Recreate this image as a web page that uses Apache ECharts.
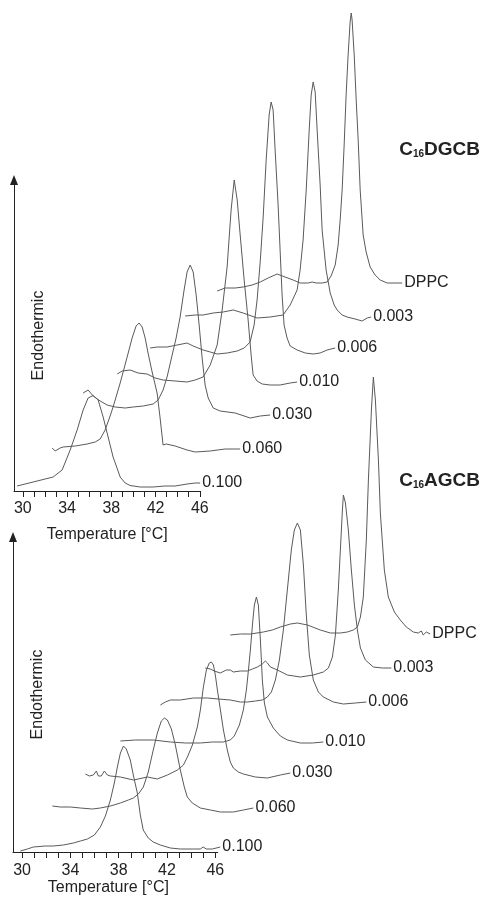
<!DOCTYPE html>
<html>
<head>
<meta charset="utf-8">
<script src="https://cdn.jsdelivr.net/npm/echarts@6/dist/echarts.min.js"></script>
<style>
  html, body { margin: 0; padding: 0; background: #fff; }
  #chart { width: 487px; height: 902px; }
</style>
</head>
<body>
<div id="chart"></div>
<script>
// Curve labels (surfactant mole fraction, DPPC = pure lipid), front to back
const curveNames = ['0.100', '0.060', '0.030', '0.010', '0.006', '0.003', 'DPPC'];
// Waterfall offsets: temperature shift (°C) and heat-flow shift (a.u.) per curve
const tempShift = [0, 3, 6, 9, 12, 15, 18];
const heatShiftDGCB = [0, 3.35, 6.7, 10.05, 13.4, 16.75, 19.9];
const heatShiftAGCB = [0, 3.6, 7.2, 10.7, 14.3, 17.5, 21.4];
// Temperature axis ticks and labels
const tickTemps = [30, 31, 32, 33, 34, 35, 36, 37, 38, 39, 40, 41, 42, 43, 44, 45, 46];
const labelTemps = [30, 34, 38, 42, 46];

// ---- C16DGCB / DPPC thermograms: temperature (°C) and heat flow (a.u.)
const dgcbT100 = [29.48,30.93,32.74,33.55,34.28,34.91,35.45,35.90,36.36,36.81,37.26,37.71,38.16,38.80,39.25,39.70,40.61,41.78,42.86,43.77,44.85,45.58,46.03];
const dgcbQ100 = [0.5,0.9,1.4,2.1,4.1,6.1,8.1,9.3,9.55,9.1,7.4,5.4,3.4,1.4,0.8,0.55,0.4,0.4,0.5,0.5,0.7,0.8,0.8];
const dgcbT060 = [29.65,29.92,30.10,30.37,30.64,31.73,32.81,33.54,33.99,34.44,34.89,35.16,35.80,36.43,36.88,37.24,37.51,37.79,38.06,38.32,38.69,39.14,39.41,39.68,39.96,40.14,40.77,41.85,42.58,43.94,45.29,46.65];
const dgcbQ060 = [0.95,0.65,0.75,0.95,1.05,1.15,1.35,1.55,1.85,2.75,4.15,5.05,7.45,10.05,11.95,13.15,13.45,13.05,11.95,10.45,8.55,6.45,3.95,1.25,1.35,1.45,1.15,0.75,0.55,0.65,0.85,0.85];
const dgcbT030 = [29.45,29.90,30.36,30.99,31.62,32.35,33.25,33.98,34.88,35.78,36.23,36.68,37.04,37.50,37.86,38.22,38.58,38.85,39.13,39.40,39.67,39.94,40.21,40.48,40.76,41.21,41.84,43.20,44.55,45.46,46.36];
const dgcbQ030 = [3.1,3.4,2.8,2.3,1.9,1.7,1.6,1.7,1.8,2.0,2.4,3.4,4.7,6.9,8.6,10.7,13.4,15.2,15.9,15.2,12.9,9.9,6.6,3.9,2.6,1.6,1.3,1.1,0.6,0.8,0.9];
const dgcbT010 = [29.53,29.98,30.70,31.42,32.23,32.96,33.68,34.77,35.85,36.58,37.30,37.94,38.57,39.02,39.47,39.83,40.11,40.38,40.65,41.01,41.37,41.64,41.82,42.18,42.64,43.36,44.26,45.17,45.80];
const dgcbQ010 = [1.65,1.95,2.05,1.75,1.65,1.25,1.05,0.95,0.85,1.05,1.35,2.55,4.55,8.05,12.35,18.05,21.05,19.05,15.55,11.05,7.05,3.55,1.55,0.95,0.65,0.55,0.55,0.75,0.85];
const dgcbT006 = [29.51,30.14,31.04,31.95,32.85,33.40,34.30,34.94,35.57,36.47,37.38,38.01,38.55,38.91,39.18,39.46,39.73,40.00,40.27,40.45,40.63,40.81,41.08,41.26,41.44,41.62,41.89,42.17,42.80,43.53,44.25,44.88,45.51,46.24];
const dgcbQ006 = [0.9,1.0,1.0,1.2,1.4,1.1,0.7,0.5,0.3,0.4,0.6,0.9,1.5,3.2,5.7,9.5,14.0,19.7,24.2,25.5,24.7,20.7,15.2,10.7,6.2,3.2,1.9,1.1,0.7,0.4,0.3,0.4,0.7,0.9];
const dgcbT003 = [29.67,30.58,31.30,32.21,33.11,34.02,34.92,36.18,37.36,38.53,39.17,39.80,40.07,40.34,40.62,40.89,41.07,41.25,41.43,41.61,41.88,42.06,42.42,42.79,43.15,43.42,43.87,44.32,45.04,45.68,46.13,46.49];
const dgcbQ003 = [0.75,0.85,0.85,1.05,1.15,1.35,1.05,0.55,0.65,0.85,1.85,3.35,5.35,8.35,13.35,19.35,22.85,24.15,23.15,19.35,13.85,9.35,5.35,3.05,1.85,1.35,0.85,0.65,0.45,0.25,0.55,0.65];
const dgcbTDPPC = [29.57,30.29,31.20,31.92,32.73,33.46,34.18,34.99,35.71,36.44,37.07,37.80,38.16,38.34,38.52,39.06,39.51,39.87,40.24,40.51,40.69,40.87,41.05,41.23,41.41,41.59,41.69,41.77,41.96,42.14,42.32,42.50,42.77,43.04,43.40,43.85,44.31,44.94,45.66,46.30];
const dgcbQDPPC = [0.1,0.4,0.4,0.5,0.7,1.0,1.4,1.8,1.5,1.2,0.9,0.9,1.0,1.2,0.9,0.9,1.0,1.6,2.7,4.7,7.2,10.2,14.7,19.7,23.7,27.0,27.9,27.2,23.7,19.2,15.2,10.2,5.7,4.0,2.5,1.7,1.2,0.9,0.9,0.9];

// ---- C16AGCB / DPPC thermograms: temperature (°C) and heat flow (a.u.)
const agcbT100 = [29.86,30.44,30.94,31.93,32.59,33.42,34.25,34.83,35.41,35.99,36.48,36.90,37.31,37.64,37.89,38.14,38.39,38.63,38.96,39.21,39.54,39.79,40.03,40.45,40.86,41.44,42.27,43.10,44.17,44.75,45.00,45.25,45.75,46.41];
const agcbQ100 = [0.1,0.3,0.5,0.6,0.6,0.7,0.9,1.1,1.3,1.7,2.5,3.6,5.2,6.9,8.5,9.9,10.6,10.3,9.2,7.7,5.9,3.7,2.2,1.4,1.0,0.7,0.4,0.3,0.3,0.3,0.5,0.3,0.3,0.5];
const agcbT060 = [29.51,30.17,31.00,31.83,32.82,33.48,34.31,35.14,35.80,36.21,36.63,37.04,37.45,37.86,38.20,38.53,38.78,39.03,39.36,39.69,40.10,40.43,40.68,41.09,41.76,42.59,43.42,44.49,45.32,46.15];
const agcbQ060 = [1.0,0.9,0.9,0.8,0.7,0.8,1.0,1.3,1.6,1.8,2.2,2.9,4.4,6.6,8.3,9.5,9.8,9.6,8.7,7.1,4.6,2.9,1.9,1.3,0.8,0.6,0.4,0.4,0.6,0.8];
const agcbT030 = [29.24,29.57,29.90,30.15,30.32,30.56,30.81,31.06,31.31,32.14,33.22,34.38,35.20,36.03,36.86,37.36,37.69,38.10,38.51,38.76,39.01,39.26,39.50,39.67,39.84,40.00,40.17,40.42,40.67,40.99,41.24,41.49,41.91,42.32,43.31,44.31,45.38,46.21];
const agcbQ030 = [0.6,0.4,0.5,0.9,0.4,0.4,0.9,0.5,0.4,0.3,0.0,0.3,0.1,0.5,1.0,1.5,2.3,3.5,5.3,7.0,9.3,11.0,11.7,11.8,11.5,10.5,9.0,7.0,5.0,3.0,1.8,1.2,0.8,0.6,0.3,0.2,0.5,0.7];
const agcbT010 = [29.14,30.38,31.87,33.28,34.52,35.76,36.75,37.66,38.24,38.57,38.99,39.32,39.57,39.74,39.90,40.07,40.23,40.40,40.56,40.73,40.89,41.06,41.31,41.80,42.38,42.96,44.04,45.03,45.94];
const agcbQ010 = [0.4,0.5,0.5,0.3,0.2,0.2,0.3,0.3,0.5,0.9,2.0,3.5,5.5,7.5,9.5,12.0,14.0,14.8,14.0,10.5,6.5,4.2,2.8,1.7,0.9,0.5,0.2,0.2,0.3];
const agcbT006 = [29.45,29.86,30.28,31.10,32.18,33.34,34.25,35.24,36.07,36.65,37.31,37.89,38.31,38.64,38.97,39.30,39.63,39.96,40.29,40.54,40.79,41.04,41.29,41.53,41.78,42.11,42.53,42.94,43.77,44.60,45.59,46.50];
const agcbQ006 = [0.4,0.7,0.9,0.9,1.1,1.1,1.0,0.9,0.7,0.7,0.8,0.9,1.2,1.7,2.9,4.9,7.9,11.9,15.9,17.9,18.6,17.9,14.4,9.4,5.4,2.9,1.7,1.2,0.7,0.5,0.6,0.7];
const agcbT003 = [30.17,30.58,30.92,31.41,31.91,32.24,32.49,33.07,33.65,34.07,34.48,34.89,35.14,35.31,35.56,36.14,36.96,38.04,39.11,39.94,40.36,40.69,40.94,41.18,41.35,41.52,41.60,41.77,42.01,42.26,42.51,42.76,43.01,43.42,44.08,44.83,45.57];
const agcbQ003 = [0.9,0.8,0.6,0.4,0.7,0.7,0.5,0.6,0.6,0.8,1.0,1.3,1.6,1.4,1.0,0.7,0.2,0.0,0.2,0.5,0.9,2.0,4.2,8.7,12.7,16.7,18.2,17.4,14.7,10.7,7.2,4.7,2.9,1.7,1.0,0.9,0.9];
const agcbTDPPC = [29.24,30.07,30.90,31.97,32.72,33.38,34.21,34.79,35.62,36.69,37.52,38.35,38.93,39.42,39.76,40.01,40.25,40.50,40.67,40.92,41.08,41.25,41.50,41.66,41.99,42.32,42.82,43.31,43.81,44.39,44.80,45.05,45.21,45.46,45.79];
const agcbQDPPC = [0.3,0.4,0.4,0.6,0.8,1.1,1.4,1.5,1.3,0.8,0.5,0.5,0.6,0.8,1.1,2.1,4.1,9.8,15.8,22.8,26.1,23.8,17.8,12.5,6.8,4.1,2.6,1.8,1.1,0.6,0.5,0.7,0.3,0.6,0.4];

const dgcbCurves = [[dgcbT100, dgcbQ100], [dgcbT060, dgcbQ060], [dgcbT030, dgcbQ030], [dgcbT010, dgcbQ010], [dgcbT006, dgcbQ006], [dgcbT003, dgcbQ003], [dgcbTDPPC, dgcbQDPPC]];
const agcbCurves = [[agcbT100, agcbQ100], [agcbT060, agcbQ060], [agcbT030, agcbQ030], [agcbT010, agcbQ010], [agcbT006, agcbQ006], [agcbT003, agcbQ003], [agcbTDPPC, agcbQDPPC]];

const FONT = '"Liberation Sans", Arial, sans-serif';
const INK = '#222';
const TRACE = '#5a5a5a';

// Each panel uses two grids with the same °C-per-pixel scale:
// a short one carrying the visible axes (30–46 °C) and a wide one
// where the shifted thermograms are plotted.
const panels = [
  { head: 'DGCB', curves: dgcbCurves, shift: heatShiftDGCB, left: 14, top: 180, height: 311,
    tMin: 29.2, tMax: 46.05, tWide: 66, qMax: 31.1, pxPerDeg: 11.06, nameGap: 36, labelMargin: 10, titleTop: 135 },
  { head: 'AGCB', curves: agcbCurves, shift: heatShiftAGCB, left: 13, top: 537, height: 315,
    tMin: 29.25, tMax: 46.2, tWide: 64, qMax: 31.5, pxPerDeg: 12.08, nameGap: 28, labelMargin: 11, titleTop: 466 }
];

const grid = [], xAxis = [], yAxis = [], series = [], title = [];

panels.forEach((p, i) => {
  // visible axes grid
  grid.push({ left: p.left, top: p.top, height: p.height, width: (p.tMax - p.tMin) * p.pxPerDeg });
  xAxis.push({
    type: 'value', gridIndex: grid.length - 1, min: p.tMin, max: p.tMax,
    name: 'Temperature [°C]', nameLocation: 'middle', nameGap: p.nameGap,
    nameTextStyle: { fontSize: 16, fontFamily: FONT, color: INK, padding: i === 1 ? [0, 14, 0, 0] : [0, 0, 0, 0] },
    axisLine: { show: true, onZero: false, lineStyle: { color: INK, width: 1 } },
    axisTick: { show: true, customValues: tickTemps, length: 6, lineStyle: { color: INK } },
    axisLabel: { show: true, customValues: labelTemps, margin: p.labelMargin, fontSize: 16, fontFamily: FONT, color: INK },
    splitLine: { show: false }
  });
  yAxis.push({
    type: 'value', gridIndex: grid.length - 1, min: 0, max: p.qMax,
    name: 'Endothermic', nameLocation: 'middle', nameRotate: 90, nameGap: -33,
    nameTextStyle: { fontSize: 16, fontFamily: FONT, color: INK },
    axisLine: { show: true, onZero: false, symbol: ['none', 'triangle'], symbolSize: [8, 10], lineStyle: { color: INK, width: 1 } },
    axisTick: { show: false },
    axisLabel: { show: false },
    splitLine: { show: false }
  });

  // wide plotting grid, same scale
  grid.push({ left: p.left, top: p.top, height: p.height, width: (p.tWide - p.tMin) * p.pxPerDeg });
  const plotIndex = grid.length - 1;
  xAxis.push({ type: 'value', gridIndex: plotIndex, min: p.tMin, max: p.tWide, show: false });
  yAxis.push({ type: 'value', gridIndex: plotIndex, min: 0, max: p.qMax, show: false });

  p.curves.forEach(([temps, heat], k) => {
    series.push({
      type: 'line',
      name: curveNames[k],
      xAxisIndex: plotIndex,
      yAxisIndex: plotIndex,
      data: temps.map((t, j) => [t + tempShift[k], heat[j] + p.shift[k]]),
      showSymbol: false,
      symbol: 'none',
      clip: false,
      silent: true,
      lineStyle: { width: 1, color: TRACE },
      endLabel: {
        show: true,
        formatter: s => s.seriesName,
        distance: 2,
        fontSize: 16,
        fontFamily: FONT,
        color: INK
      }
    });
  });

  title.push({
    text: '{m|C}{s|16}{m|' + p.head + '}',
    right: 2, top: p.titleTop,
    textStyle: {
      rich: {
        m: { fontSize: 19, fontWeight: 'bold', fontFamily: FONT, color: INK },
        s: { fontSize: 10, fontWeight: 'bold', fontFamily: FONT, color: INK, verticalAlign: 'bottom' }
      }
    }
  });
});

const chart = echarts.init(document.getElementById('chart'), null, { renderer: 'canvas' });
chart.setOption({
  animation: false,
  backgroundColor: '#fff',
  title, grid, xAxis, yAxis, series
});
</script>
</body>
</html>
